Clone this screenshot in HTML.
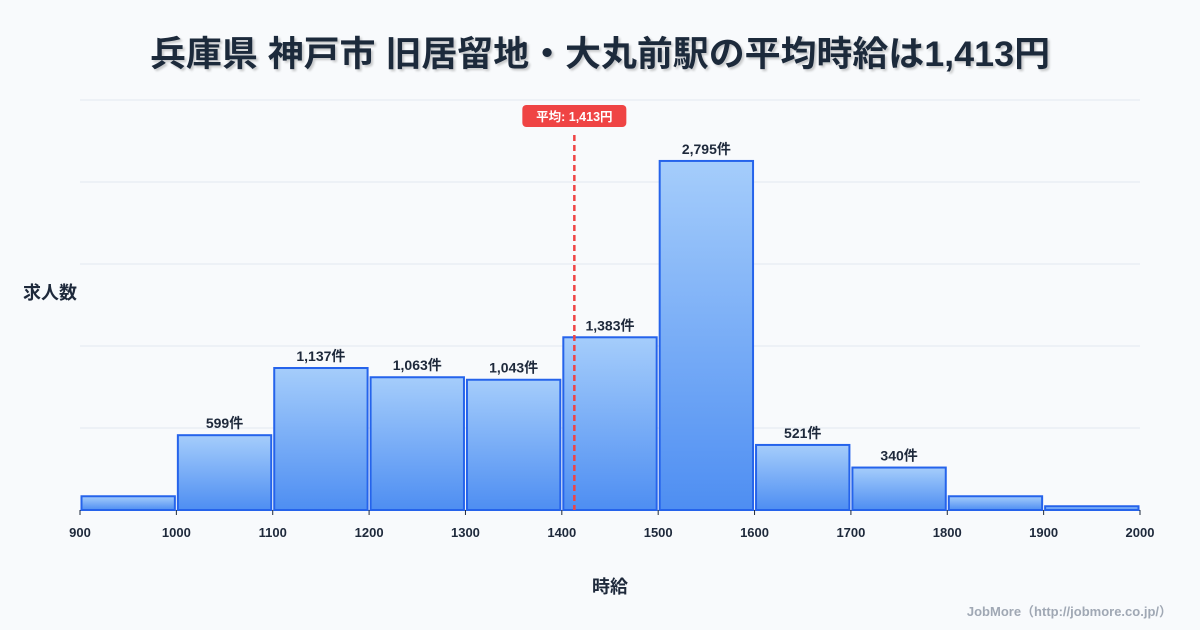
<!DOCTYPE html>
<html><head><meta charset="utf-8"><style>
body{margin:0;background:#f8fafc;}
svg{display:block;font-family:"Liberation Sans","Noto Sans CJK JP",sans-serif;}
</style></head><body>
<svg id="c" width="1200" height="630" viewBox="0 0 1200 630">
<defs><linearGradient id="g" x1="0" y1="0" x2="0" y2="1"><stop offset="0" stop-color="#a5cdfb"/><stop offset="1" stop-color="#4e8ef2"/></linearGradient>
<filter id="sh"><feDropShadow dx="2" dy="2" stdDeviation="1" flood-color="#000" flood-opacity="0.2"/></filter></defs>
<rect width="1200" height="630" fill="#f8fafc"/>
<text x="600" y="66" text-anchor="middle" font-size="35" font-weight="bold" fill="#1e293b" filter="url(#sh)" textLength="900" lengthAdjust="spacingAndGlyphs">兵庫県 神戸市 旧居留地・大丸前駅の平均時給は1,413円</text>
<g id="grid"></g><g id="bars"></g><g id="xt"></g>
<text x="50" y="299" text-anchor="middle" font-size="18" font-weight="bold" fill="#1e293b">求人数</text>
<text x="610" y="593" text-anchor="middle" font-size="18" font-weight="bold" fill="#1e293b">時給</text>
<text x="1172" y="616" text-anchor="end" font-size="13" font-weight="bold" fill="#a0a8b4">JobMore（http://jobmore.co.jp/）</text>
<g id="mean"></g>
</svg>
<script>
const binStarts=[900,1000,1100,1200,1300,1400,1500,1600,1700,1800,1900];
const counts=[110,599,1137,1063,1043,1383,2795,521,340,110,30];
const labels=["","599件","1,137件","1,063件","1,043件","1,383件","2,795件","521件","340件","",""];
const xTicks=[900,1000,1100,1200,1300,1400,1500,1600,1700,1800,1900,2000];
const meanValue=1413;
const meanLabel="平均: 1,413円";
const yMax=3283, gridCount=5;
const X=v=>80+(v-900)*1060/1100, Y=v=>510-v*410/yMax;
const NS="http://www.w3.org/2000/svg";
function mk(t,a,p,txt){const e=document.createElementNS(NS,t);for(const k in a)e.setAttribute(k,a[k]);if(txt!==undefined)e.textContent=txt;p.appendChild(e);return e;}
const grid=document.getElementById('grid');
for(let i=0;i<=gridCount;i++){const y=Y(yMax*i/gridCount);const l=mk('line',{x1:80,x2:1140,y1:y,y2:y,stroke:i?'#e2e8f0':'#cbd5e1','stroke-width':1},grid);

}
const bars=document.getElementById('bars');
binStarts.forEach((s,i)=>{const x0=X(s)+1.5,x1=X(s+100)-1.5,y=Y(counts[i]);
const r=mk('rect',{x:x0,y:y,width:x1-x0,height:510-y,fill:'url(#g)',stroke:'#2563eb','stroke-width':2},bars);


if(labels[i]){const t=mk('text',{x:(x0+x1)/2,y:y-7,'text-anchor':'middle','font-size':14,'font-weight':'bold',fill:'#1e293b'},bars,labels[i]);

}});
const xt=document.getElementById('xt');
xTicks.forEach(v=>{const l=mk('line',{x1:X(v),x2:X(v),y1:510,y2:515,stroke:'#1e293b'},xt);


const t=mk('text',{x:X(v),y:537,'text-anchor':'middle','font-size':13,'font-weight':'bold',fill:'#1e293b'},xt,v);

});
const m=document.getElementById('mean');const mx=X(meanValue);
const ml=mk('line',{x1:mx,x2:mx,y1:135,y2:510,stroke:'#ef4444','stroke-width':2.5,'stroke-dasharray':'6,4'},m);


const mb=mk('rect',{x:mx-52,y:105,width:104,height:22,rx:4,fill:'#ef4444'},m);


const mt=mk('text',{x:mx,y:121,'text-anchor':'middle','font-size':12.5,'font-weight':'bold',fill:'#fff'},m,meanLabel);


</script>
</body></html>
